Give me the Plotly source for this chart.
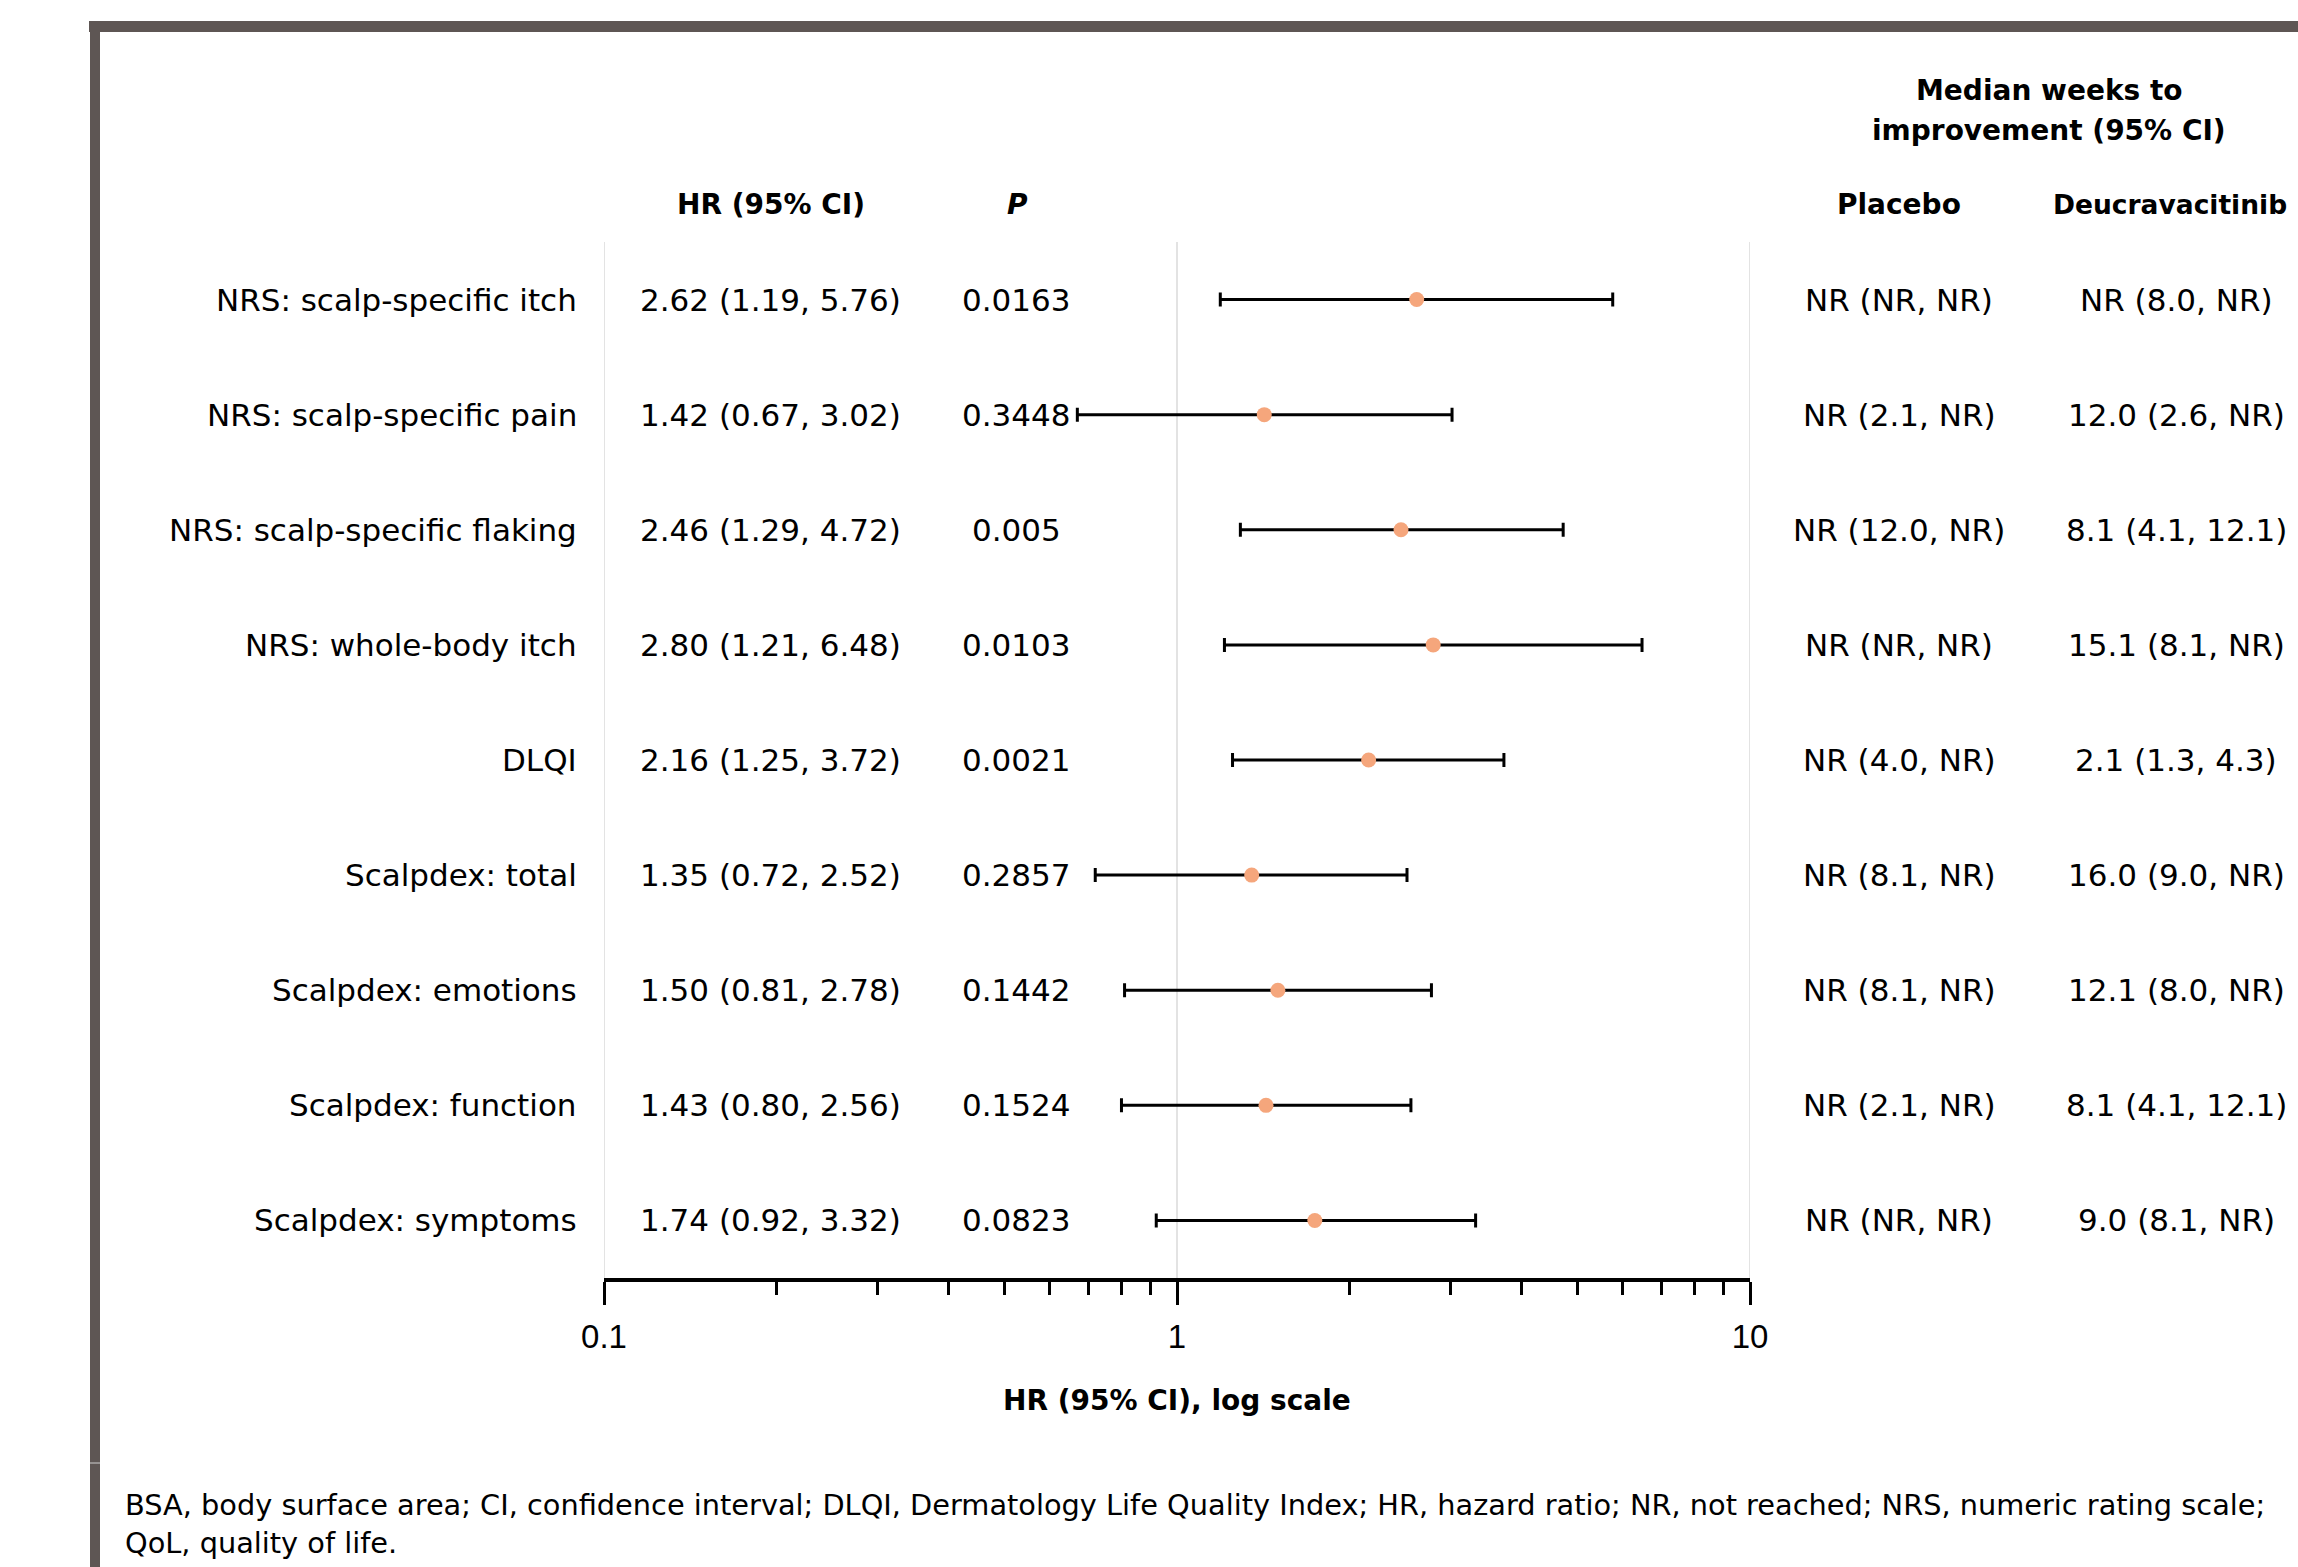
import plotly.graph_objects as go

# ---- data ----
outcomes = ["NRS: scalp-specific itch", "NRS: scalp-specific pain", "NRS: scalp-specific flaking",
            "NRS: whole-body itch", "DLQI", "Scalpdex: total", "Scalpdex: emotions",
            "Scalpdex: function", "Scalpdex: symptoms"]
hr = [2.62, 1.42, 2.46, 2.80, 2.16, 1.35, 1.50, 1.43, 1.74]
ci_low = [1.19, 0.67, 1.29, 1.21, 1.25, 0.72, 0.81, 0.80, 0.92]
ci_high = [5.76, 3.02, 4.72, 6.48, 3.72, 2.52, 2.78, 2.56, 3.32]
p_values = ["0.0163", "0.3448", "0.005", "0.0103", "0.0021", "0.2857", "0.1442", "0.1524", "0.0823"]
placebo_weeks = ["NR (NR, NR)", "NR (2.1, NR)", "NR (12.0, NR)", "NR (NR, NR)", "NR (4.0, NR)",
                 "NR (8.1, NR)", "NR (8.1, NR)", "NR (2.1, NR)", "NR (NR, NR)"]
deucra_weeks = ["NR (8.0, NR)", "12.0 (2.6, NR)", "8.1 (4.1, 12.1)", "15.1 (8.1, NR)", "2.1 (1.3, 4.3)",
                "16.0 (9.0, NR)", "12.1 (8.0, NR)", "8.1 (4.1, 12.1)", "9.0 (8.1, NR)"]
x_tick_vals = [0.1, 1, 10]
x_tick_text = ["0.1", "1", "10"]
x_minor_vals = [0.2, 0.3, 0.4, 0.5, 0.6, 0.7, 0.8, 0.9, 2, 3, 4, 5, 6, 7, 8, 9]
footnote_lines = ["BSA, body surface area; CI, confidence interval; DLQI, Dermatology Life Quality Index; "
                  "HR, hazard ratio; NR, not reached; NRS, numeric rating scale;",
                  "QoL, quality of life."]

# ---- layout geometry (pixels) ----
W, H = 2298, 1567
PL, PR, PT, PB = 604, 1750, 242, 1278
PW, PH = PR - PL, PB - PT


def px(x):
    return (x - PL) / PW


def py(y):
    return (PB - y) / PH


FONT = "DejaVu Sans, sans-serif"
FS_LABEL = 31
FS_VAL = 31
FS_HEAD = 28
FS_FOOT = 28.8
rows = list(range(len(outcomes)))

fig = go.Figure()
fig.add_trace(go.Scatter(
    x=hr, y=rows, mode="markers",
    marker=dict(color="#F5A67C", size=15, line=dict(width=0)),
    error_x=dict(type="data", symmetric=False,
                 array=[h - v for h, v in zip(ci_high, hr)],
                 arrayminus=[v - l for v, l in zip(hr, ci_low)],
                 color="black", thickness=3, width=7),
    showlegend=False, hoverinfo="skip",
))

ann = []
for i in rows:
    ann.append(dict(x=px(579), y=i, xref="paper", yref="y", text=outcomes[i],
                    xanchor="right", yanchor="middle", showarrow=False, font=dict(size=FS_LABEL)))
    ann.append(dict(x=px(770), y=i, xref="paper", yref="y",
                    text=f"{hr[i]:.2f} ({ci_low[i]:.2f}, {ci_high[i]:.2f})",
                    xanchor="center", yanchor="middle", showarrow=False, font=dict(size=FS_VAL)))
    ann.append(dict(x=px(1016), y=i, xref="paper", yref="y", text=p_values[i],
                    xanchor="center", yanchor="middle", showarrow=False, font=dict(size=FS_VAL)))
    ann.append(dict(x=px(1899), y=i, xref="paper", yref="y", text=placebo_weeks[i],
                    xanchor="center", yanchor="middle", showarrow=False, font=dict(size=FS_VAL)))
    ann.append(dict(x=px(2176), y=i, xref="paper", yref="y", text=deucra_weeks[i],
                    xanchor="center", yanchor="middle", showarrow=False, font=dict(size=FS_VAL)))

headers = [
    (771, 205, "<b>HR (95% CI)</b>", FS_HEAD),
    (1017, 205, "<b><i>P</i></b>", FS_HEAD),
    (1899, 205, "<b>Placebo</b>", FS_HEAD),
    (2170, 205, "<b>Deucravacitinib</b>", 26.5),
    (2049, 90, "<b>Median weeks to</b>", FS_HEAD),
    (2049, 131, "<b>improvement (95% CI)</b>", FS_HEAD),
    (1177, 1400, "<b>HR (95% CI), log scale</b>", FS_HEAD),
]
for x, y, t, s in headers:
    ann.append(dict(x=px(x), y=py(y), xref="paper", yref="paper", text=t,
                    xanchor="center", yanchor="middle", showarrow=False, font=dict(size=s)))

for y, t in zip([1505, 1543], footnote_lines):
    ann.append(dict(x=px(123), y=py(y), xref="paper", yref="paper", text=t,
                    xanchor="left", yanchor="middle", showarrow=False, font=dict(size=FS_FOOT)))

frame_col = "#5E5654"
shapes = [
    dict(type="rect", xref="paper", yref="paper", x0=px(89), x1=px(2310), y0=py(32), y1=py(21),
         fillcolor=frame_col, line=dict(width=0), layer="above"),
    dict(type="rect", xref="paper", yref="paper", x0=px(90), x1=px(100), y0=py(1580), y1=py(32),
         fillcolor=frame_col, line=dict(width=0), layer="above"),
    dict(type="line", xref="paper", yref="paper", x0=px(90), x1=px(100), y0=py(1463), y1=py(1463),
         line=dict(color="#CFCFCF", width=1), layer="above"),
]
# vertical grid lines at the major ticks (incl. the plot edges)
for v in x_tick_vals:
    shapes.append(dict(type="line", xref="x", yref="paper", x0=v, x1=v, y0=0, y1=1,
                       line=dict(color="#E3E3E3", width=2), layer="below"))

fig.update_layout(
    width=W, height=H,
    margin=dict(l=PL, r=W - PR, t=PT, b=H - PB, pad=0),
    paper_bgcolor="white", plot_bgcolor="white",
    font=dict(family=FONT, size=FS_VAL, color="black"),
    annotations=ann, shapes=shapes,
    xaxis=dict(type="log", range=[-1, 1], tickmode="array", tickvals=x_tick_vals, ticktext=x_tick_text,
               ticks="outside", ticklen=23, tickwidth=3, tickcolor="black",
               showline=True, linewidth=4, linecolor="black", mirror=False,
               showgrid=False, zeroline=False, ticklabelstandoff=3,
               tickfont=dict(family="Liberation Sans, Arial, sans-serif", size=33, color="black"),
               minor=dict(tickmode="array", tickvals=x_minor_vals, ticks="outside", ticklen=13,
                          tickwidth=3, tickcolor="black", showgrid=False),
               fixedrange=True),
    yaxis=dict(range=[len(outcomes) - 0.5, -0.5], visible=False, fixedrange=True),
)

fig.write_html("out.html")
